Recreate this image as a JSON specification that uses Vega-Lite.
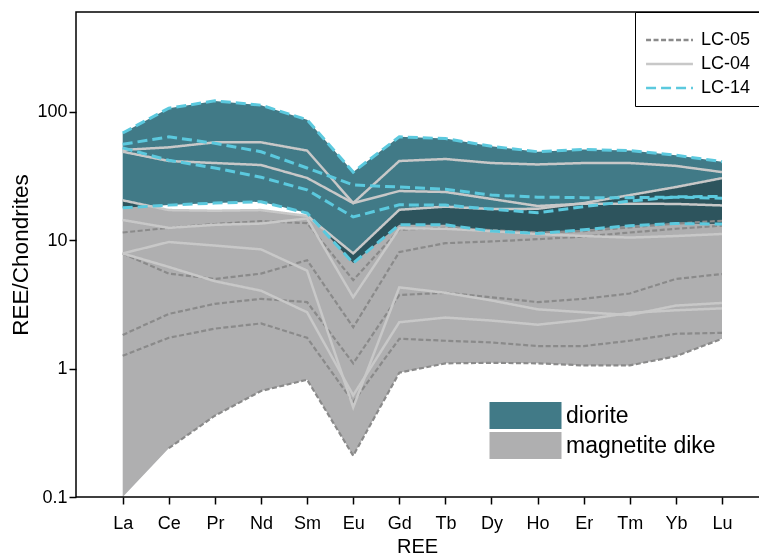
{
 "$schema": "https://vega.github.io/schema/vega-lite/v6.json",
 "width": 684, "height": 485,
 "autosize": "none",
 "padding": {"left": 76, "top": 12, "right": 0, "bottom": 59},
 "background": "white",
 "config": {
  "view": {"stroke": "black", "strokeWidth": 1.5},
  "font": "Liberation Sans",
  "axis": {"domain": false, "grid": false, "tickColor": "black", "tickWidth": 1.5, "tickSize": 7,
           "labelFont": "Liberation Sans", "labelFontSize": 18, "labelColor": "black",
           "titleFont": "Liberation Sans", "titleFontWeight": "normal", "titleColor": "black"},
  "legend": {"labelFont": "Liberation Sans", "labelColor": "black"}
 },
 "datasets": {
  "env": [
   {"rock":"diorite","REE":"La","lo":17.9,"hi":68.5},{"rock":"diorite","REE":"Ce","lo":18.8,"hi":107},{"rock":"diorite","REE":"Pr","lo":19.5,"hi":122},{"rock":"diorite","REE":"Nd","lo":20,"hi":113},{"rock":"diorite","REE":"Sm","lo":16.3,"hi":87},{"rock":"diorite","REE":"Eu","lo":6.65,"hi":34},{"rock":"diorite","REE":"Gd","lo":13.2,"hi":64},{"rock":"diorite","REE":"Tb","lo":13.2,"hi":62},{"rock":"diorite","REE":"Dy","lo":11.8,"hi":54},{"rock":"diorite","REE":"Ho","lo":11.3,"hi":49},{"rock":"diorite","REE":"Er","lo":12.1,"hi":51},{"rock":"diorite","REE":"Tm","lo":13,"hi":50},{"rock":"diorite","REE":"Yb","lo":13.5,"hi":46},{"rock":"diorite","REE":"Lu","lo":13.4,"hi":41},
   {"rock":"magnetite dike","REE":"La","lo":0.1,"hi":20.5},{"rock":"magnetite dike","REE":"Ce","lo":0.24,"hi":17.2},{"rock":"magnetite dike","REE":"Pr","lo":0.43,"hi":17},{"rock":"magnetite dike","REE":"Nd","lo":0.67,"hi":17.2},{"rock":"magnetite dike","REE":"Sm","lo":0.82,"hi":15.5},{"rock":"magnetite dike","REE":"Eu","lo":0.21,"hi":7.9},{"rock":"magnetite dike","REE":"Gd","lo":0.93,"hi":17.3},{"rock":"magnetite dike","REE":"Tb","lo":1.1,"hi":18.3},{"rock":"magnetite dike","REE":"Dy","lo":1.11,"hi":17.5},{"rock":"magnetite dike","REE":"Ho","lo":1.1,"hi":17.6},{"rock":"magnetite dike","REE":"Er","lo":1.06,"hi":19.5},{"rock":"magnetite dike","REE":"Tm","lo":1.06,"hi":22.5},{"rock":"magnetite dike","REE":"Yb","lo":1.25,"hi":26},{"rock":"magnetite dike","REE":"Lu","lo":1.71,"hi":30.5}
  ],
  "lines": [
   {"id":"T1","sample":"LC-14","REE":"La","v":68.5},{"id":"T1","sample":"LC-14","REE":"Ce","v":107},{"id":"T1","sample":"LC-14","REE":"Pr","v":122},{"id":"T1","sample":"LC-14","REE":"Nd","v":113},{"id":"T1","sample":"LC-14","REE":"Sm","v":87},{"id":"T1","sample":"LC-14","REE":"Eu","v":34},{"id":"T1","sample":"LC-14","REE":"Gd","v":64},{"id":"T1","sample":"LC-14","REE":"Tb","v":62},{"id":"T1","sample":"LC-14","REE":"Dy","v":54},{"id":"T1","sample":"LC-14","REE":"Ho","v":49},{"id":"T1","sample":"LC-14","REE":"Er","v":51},{"id":"T1","sample":"LC-14","REE":"Tm","v":50},{"id":"T1","sample":"LC-14","REE":"Yb","v":46},{"id":"T1","sample":"LC-14","REE":"Lu","v":41},
   {"id":"T2","sample":"LC-14","REE":"La","v":56},{"id":"T2","sample":"LC-14","REE":"Ce","v":64},{"id":"T2","sample":"LC-14","REE":"Pr","v":57},{"id":"T2","sample":"LC-14","REE":"Nd","v":49},{"id":"T2","sample":"LC-14","REE":"Sm","v":36.6},{"id":"T2","sample":"LC-14","REE":"Eu","v":27},{"id":"T2","sample":"LC-14","REE":"Gd","v":26},{"id":"T2","sample":"LC-14","REE":"Tb","v":25},{"id":"T2","sample":"LC-14","REE":"Dy","v":22.5},{"id":"T2","sample":"LC-14","REE":"Ho","v":21.7},{"id":"T2","sample":"LC-14","REE":"Er","v":21.5},{"id":"T2","sample":"LC-14","REE":"Tm","v":21.5},{"id":"T2","sample":"LC-14","REE":"Yb","v":21.7},{"id":"T2","sample":"LC-14","REE":"Lu","v":21.3},
   {"id":"T3","sample":"LC-14","REE":"La","v":52.5},{"id":"T3","sample":"LC-14","REE":"Ce","v":42},{"id":"T3","sample":"LC-14","REE":"Pr","v":36.6},{"id":"T3","sample":"LC-14","REE":"Nd","v":31},{"id":"T3","sample":"LC-14","REE":"Sm","v":24.7},{"id":"T3","sample":"LC-14","REE":"Eu","v":15.2},{"id":"T3","sample":"LC-14","REE":"Gd","v":18.9},{"id":"T3","sample":"LC-14","REE":"Tb","v":18.8},{"id":"T3","sample":"LC-14","REE":"Dy","v":17.5},{"id":"T3","sample":"LC-14","REE":"Ho","v":16.4},{"id":"T3","sample":"LC-14","REE":"Er","v":18.3},{"id":"T3","sample":"LC-14","REE":"Tm","v":20.2},{"id":"T3","sample":"LC-14","REE":"Yb","v":21.8},{"id":"T3","sample":"LC-14","REE":"Lu","v":22},
   {"id":"T4","sample":"LC-14","REE":"La","v":17.9},{"id":"T4","sample":"LC-14","REE":"Ce","v":18.8},{"id":"T4","sample":"LC-14","REE":"Pr","v":19.5},{"id":"T4","sample":"LC-14","REE":"Nd","v":20},{"id":"T4","sample":"LC-14","REE":"Sm","v":16.3},{"id":"T4","sample":"LC-14","REE":"Eu","v":6.65},{"id":"T4","sample":"LC-14","REE":"Gd","v":13.2},{"id":"T4","sample":"LC-14","REE":"Tb","v":13.2},{"id":"T4","sample":"LC-14","REE":"Dy","v":11.8},{"id":"T4","sample":"LC-14","REE":"Ho","v":11.3},{"id":"T4","sample":"LC-14","REE":"Er","v":12.1},{"id":"T4","sample":"LC-14","REE":"Tm","v":13},{"id":"T4","sample":"LC-14","REE":"Yb","v":13.5},{"id":"T4","sample":"LC-14","REE":"Lu","v":13.4},
   {"id":"A","sample":"LC-04","REE":"La","v":50.6},{"id":"A","sample":"LC-04","REE":"Ce","v":53},{"id":"A","sample":"LC-04","REE":"Pr","v":58},{"id":"A","sample":"LC-04","REE":"Nd","v":58},{"id":"A","sample":"LC-04","REE":"Sm","v":50},{"id":"A","sample":"LC-04","REE":"Eu","v":19.5},{"id":"A","sample":"LC-04","REE":"Gd","v":41.5},{"id":"A","sample":"LC-04","REE":"Tb","v":43},{"id":"A","sample":"LC-04","REE":"Dy","v":40},{"id":"A","sample":"LC-04","REE":"Ho","v":39},{"id":"A","sample":"LC-04","REE":"Er","v":40},{"id":"A","sample":"LC-04","REE":"Tm","v":40},{"id":"A","sample":"LC-04","REE":"Yb","v":38},{"id":"A","sample":"LC-04","REE":"Lu","v":34},
   {"id":"B","sample":"LC-04","REE":"La","v":49},{"id":"B","sample":"LC-04","REE":"Ce","v":41.5},{"id":"B","sample":"LC-04","REE":"Pr","v":40},{"id":"B","sample":"LC-04","REE":"Nd","v":38.6},{"id":"B","sample":"LC-04","REE":"Sm","v":30.6},{"id":"B","sample":"LC-04","REE":"Eu","v":19.5},{"id":"B","sample":"LC-04","REE":"Gd","v":24.2},{"id":"B","sample":"LC-04","REE":"Tb","v":23.8},{"id":"B","sample":"LC-04","REE":"Dy","v":21},{"id":"B","sample":"LC-04","REE":"Ho","v":18.5},{"id":"B","sample":"LC-04","REE":"Er","v":19.3},{"id":"B","sample":"LC-04","REE":"Tm","v":19.3},{"id":"B","sample":"LC-04","REE":"Yb","v":19.2},{"id":"B","sample":"LC-04","REE":"Lu","v":18.7},
   {"id":"C","sample":"LC-04","REE":"La","v":20.5},{"id":"C","sample":"LC-04","REE":"Ce","v":17.2},{"id":"C","sample":"LC-04","REE":"Pr","v":17},{"id":"C","sample":"LC-04","REE":"Nd","v":17.2},{"id":"C","sample":"LC-04","REE":"Sm","v":15.5},{"id":"C","sample":"LC-04","REE":"Eu","v":7.9},{"id":"C","sample":"LC-04","REE":"Gd","v":17.3},{"id":"C","sample":"LC-04","REE":"Tb","v":18.3},{"id":"C","sample":"LC-04","REE":"Dy","v":17.5},{"id":"C","sample":"LC-04","REE":"Ho","v":17.6},{"id":"C","sample":"LC-04","REE":"Er","v":19.5},{"id":"C","sample":"LC-04","REE":"Tm","v":22.5},{"id":"C","sample":"LC-04","REE":"Yb","v":26},{"id":"C","sample":"LC-04","REE":"Lu","v":30.5},
   {"id":"M2","sample":"LC-04","REE":"La","v":14.4},{"id":"M2","sample":"LC-04","REE":"Ce","v":12.5},{"id":"M2","sample":"LC-04","REE":"Pr","v":13.2},{"id":"M2","sample":"LC-04","REE":"Nd","v":13.5},{"id":"M2","sample":"LC-04","REE":"Sm","v":14.8},{"id":"M2","sample":"LC-04","REE":"Eu","v":3.6},{"id":"M2","sample":"LC-04","REE":"Gd","v":12.4},{"id":"M2","sample":"LC-04","REE":"Tb","v":12.3},{"id":"M2","sample":"LC-04","REE":"Dy","v":11.8},{"id":"M2","sample":"LC-04","REE":"Ho","v":11.2},{"id":"M2","sample":"LC-04","REE":"Er","v":10.8},{"id":"M2","sample":"LC-04","REE":"Tm","v":10.5},{"id":"M2","sample":"LC-04","REE":"Yb","v":10.8},{"id":"M2","sample":"LC-04","REE":"Lu","v":11.2},
   {"id":"U","sample":"LC-04","REE":"La","v":7.9},{"id":"U","sample":"LC-04","REE":"Ce","v":9.7},{"id":"U","sample":"LC-04","REE":"Pr","v":9.1},{"id":"U","sample":"LC-04","REE":"Nd","v":8.5},{"id":"U","sample":"LC-04","REE":"Sm","v":5.8},{"id":"U","sample":"LC-04","REE":"Eu","v":0.5},{"id":"U","sample":"LC-04","REE":"Gd","v":4.3},{"id":"U","sample":"LC-04","REE":"Tb","v":3.9},{"id":"U","sample":"LC-04","REE":"Dy","v":3.4},{"id":"U","sample":"LC-04","REE":"Ho","v":2.9},{"id":"U","sample":"LC-04","REE":"Er","v":2.75},{"id":"U","sample":"LC-04","REE":"Tm","v":2.62},{"id":"U","sample":"LC-04","REE":"Yb","v":3.1},{"id":"U","sample":"LC-04","REE":"Lu","v":3.25},
   {"id":"Dn","sample":"LC-04","REE":"La","v":7.9},{"id":"Dn","sample":"LC-04","REE":"Ce","v":6.2},{"id":"Dn","sample":"LC-04","REE":"Pr","v":4.8},{"id":"Dn","sample":"LC-04","REE":"Nd","v":4.05},{"id":"Dn","sample":"LC-04","REE":"Sm","v":2.75},{"id":"Dn","sample":"LC-04","REE":"Eu","v":0.62},{"id":"Dn","sample":"LC-04","REE":"Gd","v":2.3},{"id":"Dn","sample":"LC-04","REE":"Tb","v":2.5},{"id":"Dn","sample":"LC-04","REE":"Dy","v":2.37},{"id":"Dn","sample":"LC-04","REE":"Ho","v":2.2},{"id":"Dn","sample":"LC-04","REE":"Er","v":2.4},{"id":"Dn","sample":"LC-04","REE":"Tm","v":2.72},{"id":"Dn","sample":"LC-04","REE":"Yb","v":2.85},{"id":"Dn","sample":"LC-04","REE":"Lu","v":2.95},
   {"id":"D1","sample":"LC-05","REE":"La","v":11.5},{"id":"D1","sample":"LC-05","REE":"Ce","v":12.5},{"id":"D1","sample":"LC-05","REE":"Pr","v":13.4},{"id":"D1","sample":"LC-05","REE":"Nd","v":14.1},{"id":"D1","sample":"LC-05","REE":"Sm","v":13.6},{"id":"D1","sample":"LC-05","REE":"Eu","v":4.9},{"id":"D1","sample":"LC-05","REE":"Gd","v":12.1},{"id":"D1","sample":"LC-05","REE":"Tb","v":12.5},{"id":"D1","sample":"LC-05","REE":"Dy","v":12},{"id":"D1","sample":"LC-05","REE":"Ho","v":11.5},{"id":"D1","sample":"LC-05","REE":"Er","v":11.8},{"id":"D1","sample":"LC-05","REE":"Tm","v":12.6},{"id":"D1","sample":"LC-05","REE":"Yb","v":13.5},{"id":"D1","sample":"LC-05","REE":"Lu","v":14.2},
   {"id":"D2","sample":"LC-05","REE":"La","v":7.9},{"id":"D2","sample":"LC-05","REE":"Ce","v":5.5},{"id":"D2","sample":"LC-05","REE":"Pr","v":5},{"id":"D2","sample":"LC-05","REE":"Nd","v":5.5},{"id":"D2","sample":"LC-05","REE":"Sm","v":7},{"id":"D2","sample":"LC-05","REE":"Eu","v":2.1},{"id":"D2","sample":"LC-05","REE":"Gd","v":8.1},{"id":"D2","sample":"LC-05","REE":"Tb","v":9.5},{"id":"D2","sample":"LC-05","REE":"Dy","v":9.8},{"id":"D2","sample":"LC-05","REE":"Ho","v":10.2},{"id":"D2","sample":"LC-05","REE":"Er","v":10.7},{"id":"D2","sample":"LC-05","REE":"Tm","v":11.5},{"id":"D2","sample":"LC-05","REE":"Yb","v":12.3},{"id":"D2","sample":"LC-05","REE":"Lu","v":13},
   {"id":"D3","sample":"LC-05","REE":"La","v":1.83},{"id":"D3","sample":"LC-05","REE":"Ce","v":2.67},{"id":"D3","sample":"LC-05","REE":"Pr","v":3.2},{"id":"D3","sample":"LC-05","REE":"Nd","v":3.5},{"id":"D3","sample":"LC-05","REE":"Sm","v":3.3},{"id":"D3","sample":"LC-05","REE":"Eu","v":1.1},{"id":"D3","sample":"LC-05","REE":"Gd","v":3.75},{"id":"D3","sample":"LC-05","REE":"Tb","v":3.9},{"id":"D3","sample":"LC-05","REE":"Dy","v":3.6},{"id":"D3","sample":"LC-05","REE":"Ho","v":3.3},{"id":"D3","sample":"LC-05","REE":"Er","v":3.5},{"id":"D3","sample":"LC-05","REE":"Tm","v":3.85},{"id":"D3","sample":"LC-05","REE":"Yb","v":5},{"id":"D3","sample":"LC-05","REE":"Lu","v":5.46},
   {"id":"D4","sample":"LC-05","REE":"La","v":1.26},{"id":"D4","sample":"LC-05","REE":"Ce","v":1.74},{"id":"D4","sample":"LC-05","REE":"Pr","v":2.05},{"id":"D4","sample":"LC-05","REE":"Nd","v":2.25},{"id":"D4","sample":"LC-05","REE":"Sm","v":1.74},{"id":"D4","sample":"LC-05","REE":"Eu","v":0.55},{"id":"D4","sample":"LC-05","REE":"Gd","v":1.71},{"id":"D4","sample":"LC-05","REE":"Tb","v":1.65},{"id":"D4","sample":"LC-05","REE":"Dy","v":1.6},{"id":"D4","sample":"LC-05","REE":"Ho","v":1.5},{"id":"D4","sample":"LC-05","REE":"Er","v":1.5},{"id":"D4","sample":"LC-05","REE":"Tm","v":1.65},{"id":"D4","sample":"LC-05","REE":"Yb","v":1.87},{"id":"D4","sample":"LC-05","REE":"Lu","v":1.9},
   {"id":"D5","sample":"LC-05","REE":"Ce","v":0.24},{"id":"D5","sample":"LC-05","REE":"Pr","v":0.43},{"id":"D5","sample":"LC-05","REE":"Nd","v":0.67},{"id":"D5","sample":"LC-05","REE":"Sm","v":0.82},{"id":"D5","sample":"LC-05","REE":"Eu","v":0.21},{"id":"D5","sample":"LC-05","REE":"Gd","v":0.93},{"id":"D5","sample":"LC-05","REE":"Tb","v":1.1},{"id":"D5","sample":"LC-05","REE":"Dy","v":1.11},{"id":"D5","sample":"LC-05","REE":"Ho","v":1.1},{"id":"D5","sample":"LC-05","REE":"Er","v":1.06},{"id":"D5","sample":"LC-05","REE":"Tm","v":1.06},{"id":"D5","sample":"LC-05","REE":"Yb","v":1.25},{"id":"D5","sample":"LC-05","REE":"Lu","v":1.71}
  ]
 },
 "encoding": {
  "x": {"field": "REE", "type": "ordinal",
        "sort": ["La","Ce","Pr","Nd","Sm","Eu","Gd","Tb","Dy","Ho","Er","Tm","Yb","Lu"],
        "scale": {"type": "point", "range": [46.7, 646], "padding": 0},
        "axis": {"title": "REE", "titleFontSize": 20, "labelAngle": 0, "labelPadding": 10, "titleY": 39, "titleX": 341}}
 },
 "layer": [
  {
   "data": {"name": "env"},
   "transform": [{"filter": "datum.rock === 'diorite'"}],
   "mark": {"type": "area"},
   "encoding": {
    "y": {"field": "lo", "type": "quantitative", "scale": {"type": "log", "domain": [0.1, 601], "nice": false},
          "axis": {"values": [0.1, 1, 10, 100], "format": "~g", "title": "REE/Chondrites", "titleFontSize": 22.5, "labelPadding": 2}},
    "y2": {"field": "hi"},
    "fill": {"field": "rock", "type": "nominal",
             "scale": {"domain": ["diorite", "magnetite dike"], "range": ["#417a87", "#afafb0"]},
             "legend": {"title": null, "orient": "none", "legendX": 411, "legendY": 392, "padding": 0,
                        "symbolType": "M-4,-1.5H4V1.5H-4Z", "symbolSize": 324, "symbolStrokeWidth": 0,
                        "symbolOffset": 27, "labelOffset": 29, "labelFontSize": 23, "rowPadding": 3, "symbolOpacity": 1}}
   }
  },
  {
   "data": {"name": "env"},
   "transform": [{"filter": "datum.rock === 'magnetite dike'"}],
   "mark": {"type": "area", "blend": "multiply"},
   "encoding": {
    "y": {"field": "lo", "type": "quantitative", "title": "REE/Chondrites"},
    "y2": {"field": "hi"},
    "fill": {"field": "rock", "type": "nominal"}
   }
  },
  {
   "data": {"name": "lines"},
   "transform": [{"filter": "datum.sample === 'LC-05'"}],
   "mark": {"type": "line", "strokeWidth": 2.2},
   "encoding": {
    "y": {"field": "v", "type": "quantitative", "title": "REE/Chondrites"},
    "detail": {"field": "id"},
    "stroke": {"field": "sample", "type": "nominal",
               "scale": {"domain": ["LC-05", "LC-04", "LC-14"], "range": ["#8a8a8a", "#c8c8c8", "#5bc9de"]},
               "legend": {"title": " ", "titleFontSize": 6, "titlePadding": 4, "orient": "top-right", "offset": 0, "padding": 9, "strokeColor": "black", "fillColor": "white",
                          "symbolType": "M-5,0H5", "symbolSize": 88, "symbolStrokeWidth": 2.5, "symbolOffset": 16.5,
                          "labelOffset": 22.5, "labelFontSize": 18, "rowPadding": 6}},
    "strokeDash": {"field": "sample", "type": "nominal",
                   "scale": {"domain": ["LC-05", "LC-04", "LC-14"], "range": [[5, 2.5], [1, 0], [10, 5]]},
                   "legend": {"title": " ", "titleFontSize": 6, "titlePadding": 4, "orient": "top-right", "offset": 0, "padding": 9, "strokeColor": "black", "fillColor": "white",
                          "symbolType": "M-5,0H5", "symbolSize": 88, "symbolStrokeWidth": 2.5, "symbolOffset": 16.5,
                          "labelOffset": 22.5, "labelFontSize": 18, "rowPadding": 6}}
   }
  },
  {
   "data": {"name": "lines"},
   "transform": [{"filter": "datum.sample === 'LC-04'"}],
   "mark": {"type": "line", "strokeWidth": 2.5},
   "encoding": {
    "y": {"field": "v", "type": "quantitative", "title": "REE/Chondrites"},
    "detail": {"field": "id"},
    "stroke": {"field": "sample", "type": "nominal"},
    "strokeDash": {"field": "sample", "type": "nominal"}
   }
  },
  {
   "data": {"name": "lines"},
   "transform": [{"filter": "datum.sample === 'LC-14'"}],
   "mark": {"type": "line", "strokeWidth": 3},
   "encoding": {
    "y": {"field": "v", "type": "quantitative", "title": "REE/Chondrites"},
    "detail": {"field": "id"},
    "stroke": {"field": "sample", "type": "nominal"},
    "strokeDash": {"field": "sample", "type": "nominal"}
   }
  }
 ]
}
